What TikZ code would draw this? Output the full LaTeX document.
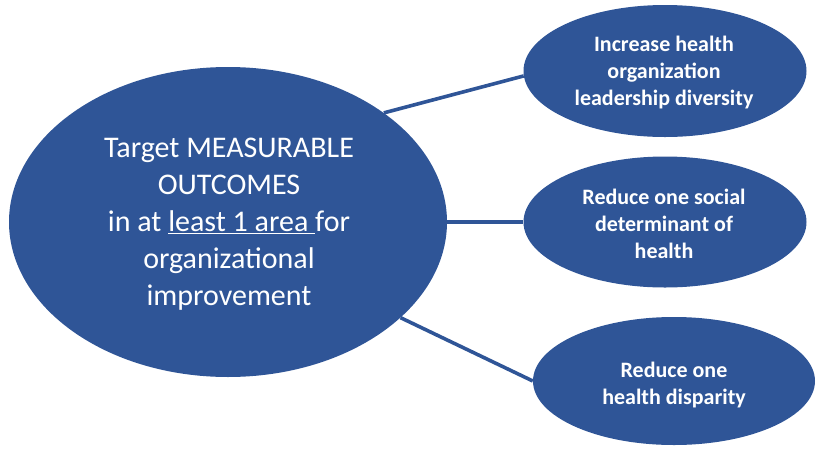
\documentclass[tikz,border=0pt]{standalone}
\usepackage{fontspec}
\setmainfont{Carlito}
\usetikzlibrary{shapes.geometric}
\definecolor{obl}{RGB}{47,85,151}
\tikzset{
  oval/.style={ellipse, fill=obl, draw=none, inner sep=0pt},
  bigtxt/.style={text=white, align=center, font=\fontsize{30}{37}\selectfont},
  smalltxt/.style={text=white, align=center, font=\fontsize{22}{27}\selectfont\bfseries},
  link/.style={draw=obl, line width=3.6pt}
}
\begin{document}
\begin{tikzpicture}[x=1pt,y=-1pt]
\useasboundingbox (0,0) rectangle (823,448);
\node[oval, minimum width=438pt, minimum height=310pt] (big) at (228,222) {};
\node[oval, minimum width=283pt, minimum height=132pt] (top) at (665,71) {};
\node[oval, minimum width=283pt, minimum height=131pt] (mid) at (665,222) {};
\node[oval, minimum width=282pt, minimum height=128pt] (bot) at (674,381) {};
\draw[link] (big.35) -- (top.182);
\draw[link] (big.east) -- (mid.west);
\draw[link] (big.-29) -- (bot.west);
\node[bigtxt] (bigt) at (229,224) {Target MEASURABLE\\OUTCOMES\\in at \underline{least 1 area\ }for\\organizational\\improvement};
\node[smalltxt] (topt) at (664,73) {Increase health\\organization\\leadership diversity};
\node[smalltxt] (midt) at (664,224) {Reduce one social\\determinant of\\health};
\node[smalltxt] (bott) at (674,385) {Reduce one\\health disparity};
\end{tikzpicture}
\end{document}
